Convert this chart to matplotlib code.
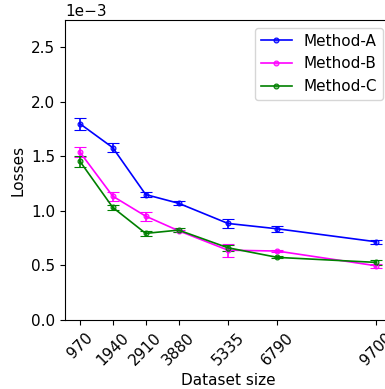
import numpy as np
import matplotlib
matplotlib.use("Agg")
import matplotlib.pyplot as plt

sizes = [970, 1940, 2910, 3880, 5335, 6790, 9700]

loss_a = [1.80e-3, 1.58e-3, 1.15e-3, 1.07e-3, 0.885e-3, 0.836e-3, 0.717e-3]
err_a = [0.055e-3, 0.04e-3, 0.025e-3, 0.02e-3, 0.045e-3, 0.03e-3, 0.02e-3]

loss_b = [1.54e-3, 1.135e-3, 0.952e-3, 0.818e-3, 0.640e-3, 0.632e-3, 0.497e-3]
err_b = [0.045e-3, 0.04e-3, 0.04e-3, 0.01e-3, 0.06e-3, 0.01e-3, 0.02e-3]

loss_c = [1.456e-3, 1.032e-3, 0.794e-3, 0.824e-3, 0.662e-3, 0.574e-3, 0.528e-3]
err_c = [0.05e-3, 0.025e-3, 0.02e-3, 0.015e-3, 0.03e-3, 0.01e-3, 0.02e-3]

fig = plt.figure(figsize=(3.85, 3.89), dpi=100)
ax = fig.add_axes([65 / 385, 69 / 389, 326 / 385, 300 / 389])

handles = []
for y, e, c, name in [(loss_a, err_a, "blue", "Method-A"),
                      (loss_b, err_b, "magenta", "Method-B"),
                      (loss_c, err_c, "green", "Method-C")]:
    ln = ax.errorbar(sizes, y, yerr=e, color=c, marker="o", ms=3.5,
                     mfc=matplotlib.colors.to_rgba(c, 0.45), mec=c, mew=0.8,
                     lw=1.2, capsize=4)
    handles.append((ln.lines[0], name))

ax.set_ylim(0, 2.75e-3)
ax.ticklabel_format(axis="y", style="sci", scilimits=(-3, -3))
ax.yaxis.get_offset_text().set_fontsize(11)
ax.set_xticks(sizes)
ax.set_xticklabels([str(s) for s in sizes], rotation=45, fontsize=11)
ax.tick_params(axis="y", labelsize=11)
ax.set_xlabel("Dataset size", fontsize=11)
ax.set_ylabel("Losses", fontsize=11)
ax.legend([h for h, _ in handles], [n for _, n in handles],
          loc="upper right", fontsize=11)

fig.savefig("out.png", dpi=100)
